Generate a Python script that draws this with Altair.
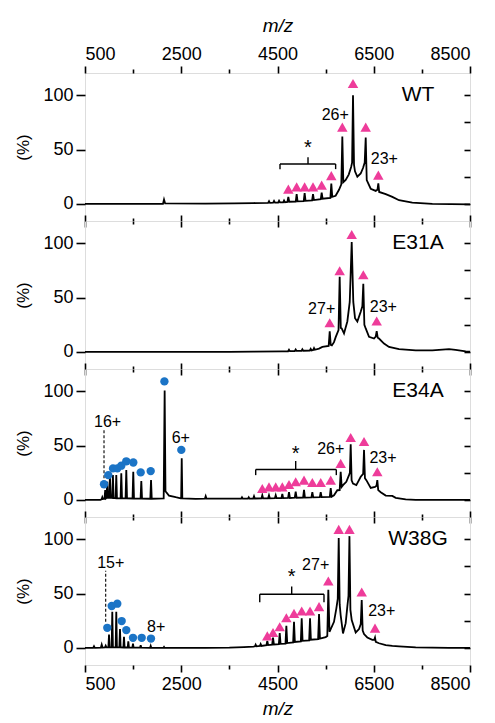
import altair as alt
import pandas as pd

# ---------------- values ----------------
X_DOMAIN = [500, 8500]
Y_DOMAIN = [-15.7, 120.4]
X_MAJOR = [500, 2500, 4500, 6500, 8500]
X_MINOR = [1500, 3500, 5500, 7500]
Y_MAJOR = [0, 50, 100]
Y_ALL = [0, 25, 50, 75, 100]

PANEL_NAMES = ["WT", "E31A", "E34A", "W38G"]
NAME_MZ = 7420
NAME_PCT = 100

# --- WT ---
WT_TRACE = [
    (500, 0), (1500, 0), (2120, 0), (2142, 4), (2165, 0.5), (3000, 0.3), (3600, 0.5), (4000, 0.8),
    (4305, 1), (4324, 2.5), (4343, 1), (4410, 1.2), (4428, 2.8), (4447, 1.2), (4514, 1.3), (4532, 3),
    (4551, 1.4), (4618, 1.5), (4636, 3.2), (4655, 1.6), (4706, 1.8), (4725, 6.5), (4744, 2),
    (4879, 2.2), (4898, 9), (4917, 2.4), (5045, 2.6), (5064, 9.9), (5083, 2.8), (5219, 3.2),
    (5238, 9), (5257, 3.5), (5399, 4.3), (5418, 10.5), (5437, 4.8), (5599, 5.5), (5618, 18.8),
    (5638, 6.5), (5708, 7.5), (5778, 13), (5826, 18), (5847, 62), (5868, 20), (5917, 22),
    (5980, 27), (6030, 34), (6050, 38), (6069, 100), (6090, 36), (6110, 30), (6159, 25),
    (6229, 28), (6277, 33), (6312, 38), (6333, 61), (6354, 22), (6437, 14), (6541, 12),
    (6577, 13), (6595, 19), (6613, 11), (6749, 9), (6886, 6.5), (7025, 3.4), (7301, 1.2),
    (7717, 0), (8500, -0.4),
]
WT_TRI = [(4725, 13.6), (4898, 15.7), (5064, 15.7), (5238, 15.7), (5418, 17.3), (5618, 26),
          (5847, 70.6), (6069, 110.8), (6333, 70.6), (6595, 26.5)]
WT_CIRC = []
WT_LABELS = [("26+", 5700, 82), ("23+", 6720, 41)]
WT_BRACKET = [(4552, 5708, 36.7, 32, 5134, 43, 55.5)]  # start, end, y, foot, centre, tip, star
WT_DASH = []

# --- E31A ---
E31A_TRACE = [
    (500, 0), (2000, 0), (3500, 0), (4000, 0.3), (4600, 0.5), (4720, 0.6), (4739, 2), (4758, 0.7),
    (4860, 0.8), (4878, 2.2), (4897, 0.9), (4998, 1), (5016, 2.5), (5035, 1.1), (5172, 1.3),
    (5190, 2.8), (5208, 1.4), (5243, 1.8), (5259, 3.5), (5275, 2), (5363, 3), (5432, 4.6),
    (5563, 5.5), (5585, 19), (5606, 6.5), (5630, 6), (5674, 9), (5709, 13.6), (5768, 20),
    (5792, 69), (5815, 22), (5834, 21.6), (5882, 17), (5951, 28), (6001, 46), (6042, 101),
    (6075, 46), (6111, 31), (6159, 28), (6229, 37), (6263, 42), (6283, 62.6), (6305, 25),
    (6333, 21.6), (6402, 13.9), (6506, 12.3), (6541, 14), (6561, 19), (6583, 13), (6609, 12.3),
    (6713, 7.7), (6817, 4.6), (7025, 2.5), (7372, 1.5), (7717, 1.5), (8064, 2.5), (8200, 1.8),
    (8411, 0.6), (8500, 0.3),
]
E31A_TRI = [(5585, 26.9), (5792, 74.7), (6042, 108), (6283, 71), (6561, 28.4)]
E31A_CIRC = []
E31A_LABELS = [("27+", 5418, 39.5), ("23+", 6699, 41.7)]
E31A_BRACKET = []
E31A_DASH = []

# --- E34A ---
E34A_TRACE = [
    (500, 0), (820, 0), (845, 0.5), (860, 2.5), (875, 0.8), (905, 1), (920, 9), (935, 1.5),
    (948, 2), (962, 16.7), (976, 2), (1004, 2), (1018, 22.2), (1032, 2), (1066, 1.8), (1080, 22.8),
    (1094, 1.8), (1136, 1.6), (1150, 22.8), (1164, 1.6), (1239, 1.5), (1254, 24.4), (1269, 1.5),
    (1343, 1.4), (1358, 27.5), (1373, 1.4), (1488, 1.3), (1503, 25.9), (1518, 1.3), (1655, 1.2),
    (1670, 17.3), (1685, 1.2), (1857, 1.1), (1872, 18.2), (1887, 1.1), (2135, 1.5), (2155, 100.6),
    (2172, 8), (2245, 4), (2385, 2.5), (2489, 1.5), (2498, 1.5), (2510, 38.3), (2522, 1.5),
    (2800, 1), (2992, 1.2), (3008, 3.4), (3024, 1.2), (3500, 1.2), (3745, 1.2), (3762, 2.5),
    (3779, 1.2), (3885, 1.2), (3902, 2.5), (3919, 1.2), (3995, 1.3), (4012, 3.4), (4029, 1.3),
    (4166, 1.4), (4184, 4.3), (4202, 1.4), (4305, 1.5), (4323, 4.3), (4341, 1.5), (4445, 1.6),
    (4463, 4.3), (4481, 1.6), (4582, 1.7), (4600, 5.6), (4618, 1.7), (4720, 1.8), (4739, 7.1),
    (4758, 1.8), (4859, 2), (4878, 7.7), (4897, 2), (5032, 2.2), (5051, 9.3), (5070, 2.2),
    (5205, 2.4), (5224, 7.1), (5243, 2.4), (5379, 2.6), (5398, 7.1), (5417, 2.6), (5587, 2.8),
    (5606, 10.8), (5625, 3), (5674, 4.3), (5743, 8.9), (5792, 9), (5813, 25.9), (5834, 12),
    (5861, 13.6), (5930, 16.7), (5986, 22.8), (6004, 25), (6021, 51.2), (6040, 18), (6069, 15.1),
    (6138, 13.6), (6229, 21.3), (6280, 24), (6298, 46), (6317, 20), (6346, 18.2), (6437, 11),
    (6526, 12), (6557, 13), (6574, 18.2), (6593, 9), (6645, 7.1), (6749, 4), (6886, 3.7),
    (6956, 1.9), (7164, 0.6), (7372, 0), (8500, 0),
]
E34A_TRI = [(4184, 10.5), (4323, 12), (4463, 12), (4600, 12), (4739, 14.2), (4878, 16.7),
            (5051, 18.2), (5224, 16), (5398, 16), (5606, 18.2), (5813, 33.6), (6021, 57.4),
            (6298, 53.7), (6574, 25.9)]
E34A_CIRC = [(895, 14.4), (984, 22.8), (1082, 29), (1171, 29), (1254, 31.5), (1358, 35.5),
             (1504, 34.4), (1657, 25.3), (1865, 26.5), (2150, 109), (2501, 46)]
E34A_LABELS = [("16+", 970, 72), ("6+", 2490, 57.4), ("26+", 5606, 47), ("23+", 6692, 38.9)]
E34A_BRACKET = [(4047, 5722, 28, 22.8, 4878, 35.8, 46)]
E34A_DASH = [(895, 20, 64.5)]

# --- W38G ---
W38G_TRACE = [
    (500, 0), (670, 0), (687, 1.5), (704, 0), (830, 0.3), (847, 3), (864, 0.3), (915, 0.5),
    (930, 2), (945, 0.5), (986, 0.5), (999, 12.3), (1012, 0.5), (1054, 0.5), (1067, 33.3),
    (1080, 0.5), (1137, 0.5), (1150, 33.3), (1163, 0.5), (1214, 0.5), (1227, 17.3), (1240, 0.5),
    (1297, 0.4), (1310, 10.2), (1323, 0.4), (1387, 0.4), (1400, 6), (1413, 0.4), (1484, 0.3),
    (1497, 4), (1510, 0.3), (1644, 0.2), (1657, 2.5), (1670, 0.2), (1852, 0.1), (1865, 1.9),
    (1878, 0.1), (2129, 0), (2142, 0.9), (2155, 0), (3000, 0), (3500, 0.3), (3800, 0.8),
    (4000, 1.2), (4030, 1.5), (4046, 3), (4062, 1.5), (4134, 1.8), (4150, 3.5), (4166, 1.8),
    (4270, 2.5), (4288, 6.5), (4306, 2.6), (4389, 3), (4407, 9.6), (4425, 3.2), (4528, 3.5),
    (4546, 13.6), (4564, 3.7), (4666, 4), (4684, 20.4), (4702, 4.5), (4825, 5), (4843, 24),
    (4861, 5.5), (4985, 6), (5003, 27.2), (5021, 6.5), (5158, 7), (5176, 27.2), (5194, 7.5),
    (5344, 8), (5363, 31.2), (5382, 8.6), (5501, 10), (5535, 11), (5556, 53.4), (5580, 14.8),
    (5674, 24), (5723, 36.4), (5752, 45), (5772, 101), (5792, 40), (5813, 30), (5861, 13.3),
    (5917, 22.8), (5951, 38), (5975, 48), (5995, 102.8), (6015, 35), (6042, 25.6), (6125, 14.2),
    (6194, 17.3), (6230, 22), (6250, 44), (6270, 16), (6298, 12.7), (6366, 9.6), (6470, 7.4),
    (6510, 7.5), (6526, 9.5), (6542, 5.5), (6609, 4.3), (6749, 2.5), (6886, 1.9), (7025, 1.5),
    (7372, 0.6), (8064, 0), (8500, 0),
]
W38G_TRI = [(4288, 11.1), (4407, 14.2), (4546, 19.4), (4684, 27.8), (4843, 31.8), (5003, 34),
            (5176, 34), (5363, 38), (5556, 61.5), (5772, 109), (5995, 109), (6250, 51.5),
            (6526, 18.2)]
W38G_CIRC = [(963, 18.5), (1055, 38.6), (1171, 40.7), (1262, 24.7), (1358, 16.4), (1497, 9.3),
             (1678, 9.3), (1871, 8.6)]
W38G_LABELS = [("15+", 1034, 78), ("8+", 1980, 19.4), ("27+", 5293, 75.9), ("23+", 6665, 34)]
W38G_BRACKET = [(4131, 5466, 49.4, 42, 4795, 56.5, 68.8)]
W38G_DASH = [(930, 24, 71)]

PANEL_DATA = [
    (WT_TRACE, WT_TRI, WT_CIRC, WT_LABELS, WT_BRACKET, WT_DASH),
    (E31A_TRACE, E31A_TRI, E31A_CIRC, E31A_LABELS, E31A_BRACKET, E31A_DASH),
    (E34A_TRACE, E34A_TRI, E34A_CIRC, E34A_LABELS, E34A_BRACKET, E34A_DASH),
    (W38G_TRACE, W38G_TRI, W38G_CIRC, W38G_LABELS, W38G_BRACKET, W38G_DASH),
]

# ---------------- styling ----------------
PINK = "#EE3C9A"
BLUE = "#1B74C6"
FONT = "Liberation Sans"
W, H = 385, 148

XS = alt.Scale(domain=X_DOMAIN, nice=False, zero=False)
YS = alt.Scale(domain=Y_DOMAIN, nice=False, zero=False)

AX = dict(grid=False, domain=False, tickColor="black", tickWidth=1.6, labelColor="black",
          labelFont=FONT, labelFontSize=18, titleFont=FONT, titleColor="black",
          titleFontWeight="normal")

frame_df = pd.DataFrame({"mz": X_DOMAIN, "pct": [0, 0]})


def carrier(x_axis, y_axis=None):
    return alt.Chart(frame_df).mark_point(opacity=0).encode(
        x=alt.X("mz:Q", scale=XS, axis=x_axis),
        y=alt.Y("pct:Q", scale=YS, axis=y_axis),
    )


def make_panel(idx):
    trace, tri, circ, labels, bracket, dash = PANEL_DATA[idx]
    first = idx == 0
    last = idx == len(PANEL_DATA) - 1

    top_major = alt.Axis(orient="top", values=X_MAJOR, format="d", labels=first,
                         tickSize=7 if first else 6, labelPadding=3,
                         title="m/z" if first else None, titleFontStyle="italic",
                         titleFontSize=19, titlePadding=10, **AX)
    top_minor = alt.Axis(orient="top", values=X_MINOR, labels=False,
                         tickSize=4 if first else 3, title=None, **AX)
    bot_major = alt.Axis(orient="bottom", values=X_MAJOR, format="d", labels=last,
                         tickSize=7 if last else 6, labelPadding=3,
                         title="m/z" if last else None, titleFontStyle="italic",
                         titleFontSize=19, titlePadding=6, **AX)
    bot_minor = alt.Axis(orient="bottom", values=X_MINOR, labels=False,
                         tickSize=4 if last else 3, title=None, **AX)
    left_y = alt.Axis(orient="left", values=Y_MAJOR, tickSize=9, labelPadding=3,
                      title="(%)", titleFontSize=17, titlePadding=10, **AX)
    right_y = alt.Axis(orient="right", values=Y_ALL, tickSize=6, offset=-6, labels=False,
                       title=None, **AX)

    layers = [
        carrier(bot_major, left_y),
        carrier(bot_minor),
        carrier(top_major, right_y),
        carrier(top_minor),
    ]

    tdf = pd.DataFrame(trace, columns=["mz", "pct"])
    layers.append(
        alt.Chart(tdf).mark_line(color="black", strokeWidth=1.8, clip=True).encode(
            x=alt.X("mz:Q", scale=XS, axis=None),
            y=alt.Y("pct:Q", scale=YS, axis=None),
        )
    )

    segs = []
    for (s, e, y, foot, c, tip, star) in bracket:
        segs += [(s, e, y, y), (s, s, foot, y), (e, e, foot, y), (c, c, y, tip)]
    if segs:
        sdf = pd.DataFrame(segs, columns=["x1", "x2", "y1", "y2"])
        layers.append(
            alt.Chart(sdf).mark_rule(color="black", strokeWidth=1.4).encode(
                x=alt.X("x1:Q", scale=XS, axis=None), x2="x2:Q",
                y=alt.Y("y1:Q", scale=YS, axis=None), y2="y2:Q",
            )
        )
        stars = pd.DataFrame([(c, star) for (s, e, y, foot, c, tip, star) in bracket],
                             columns=["mz", "pct"]).assign(t="*")
        layers.append(
            alt.Chart(stars).mark_text(font=FONT, fontSize=20, color="black", dy=4,
                                       baseline="middle").encode(
                x=alt.X("mz:Q", scale=XS, axis=None),
                y=alt.Y("pct:Q", scale=YS, axis=None), text="t:N",
            )
        )

    if dash:
        ddf = pd.DataFrame(dash, columns=["mz", "lo", "hi"])
        layers.append(
            alt.Chart(ddf).mark_rule(color="black", strokeWidth=1.1, strokeDash=[3, 2]).encode(
                x=alt.X("mz:Q", scale=XS, axis=None),
                y=alt.Y("lo:Q", scale=YS, axis=None), y2="hi:Q",
            )
        )

    if circ:
        cdf = pd.DataFrame(circ, columns=["mz", "pct"])
        layers.append(
            alt.Chart(cdf).mark_circle(color=BLUE, size=70, opacity=1).encode(
                x=alt.X("mz:Q", scale=XS, axis=None),
                y=alt.Y("pct:Q", scale=YS, axis=None),
            )
        )

    tri_df = pd.DataFrame(tri, columns=["mz", "pct"])
    layers.append(
        alt.Chart(tri_df).mark_point(shape="triangle-up", filled=True, color=PINK, size=110,
                                     opacity=1).encode(
            x=alt.X("mz:Q", scale=XS, axis=None),
            y=alt.Y("pct:Q", scale=YS, axis=None),
        )
    )

    ldf = pd.DataFrame(labels, columns=["t", "mz", "pct"])
    layers.append(
        alt.Chart(ldf).mark_text(font=FONT, fontSize=16, color="black", baseline="middle").encode(
            x=alt.X("mz:Q", scale=XS, axis=None),
            y=alt.Y("pct:Q", scale=YS, axis=None), text="t:N",
        )
    )

    ndf = pd.DataFrame({"t": [PANEL_NAMES[idx]], "mz": [NAME_MZ], "pct": [NAME_PCT]})
    layers.append(
        alt.Chart(ndf).mark_text(font=FONT, fontSize=21, color="black", baseline="middle").encode(
            x=alt.X("mz:Q", scale=XS, axis=None),
            y=alt.Y("pct:Q", scale=YS, axis=None), text="t:N",
        )
    )

    return alt.layer(*layers).resolve_axis(x="independent", y="independent").properties(
        width=W, height=H)


chart = alt.vconcat(*[make_panel(i) for i in range(4)], spacing=0, bounds="flush").properties(
    padding={"left": 6, "top": 7, "right": 5, "bottom": 0}
).configure_view(stroke="black", strokeWidth=2).configure(background="white")

chart.save("out.html", embed_options={"renderer": "svg", "actions": False})
